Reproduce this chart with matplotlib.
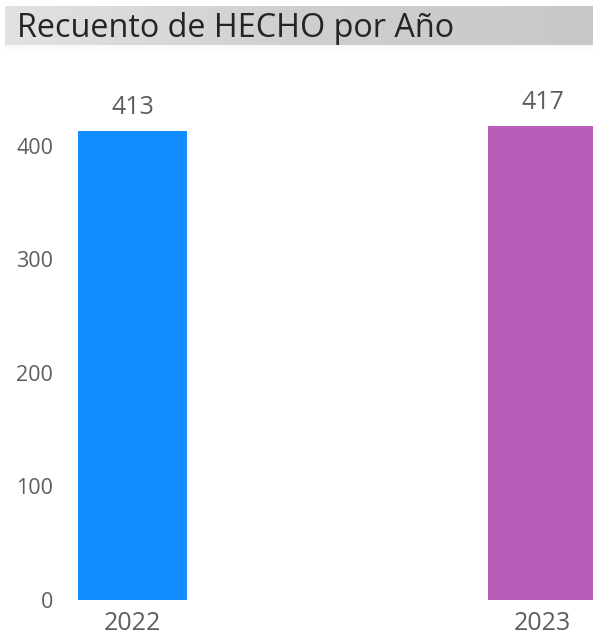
import numpy as np
from matplotlib import pyplot as plt

# datos del gráfico
anios = ['2022', '2023']
conteos = [413, 417]
colores = ['#118DFF', '#B95DB8']
titulo = 'Recuento de HECHO por Año'
yticks = [0, 100, 200, 300, 400]

plt.rcParams['font.family'] = ['Open Sans', 'DejaVu Sans']

W, H = 593, 642
fig = plt.figure(figsize=(W / 100, H / 100), dpi=100)
fig.patch.set_facecolor('white')

# barra de título con degradado gris
tb = fig.add_axes([5 / W, 1 - 45 / H, 1 - 5 / W, 39 / H])
grad = np.linspace(0, 1, 256).reshape(1, -1)
tb.imshow(grad, aspect='auto', cmap=plt.matplotlib.colors.LinearSegmentedColormap.from_list(
    'g', ['#e2e2e2', '#cfcfcf', '#c8c8c8']), extent=[0, 1, 0, 1])
tb.set_xlim(0, 1)
tb.set_ylim(0, 1)
tb.axis('off')
tb.text(12 / W, 0.42, titulo, fontsize=23.3, color='#252423', va='center', ha='left',
        transform=tb.transAxes)

# sombra suave bajo la barra
sh = fig.add_axes([5 / W, 1 - 53 / H, 1 - 5 / W, 8 / H])
sh.imshow(np.linspace(0, 1, 32).reshape(-1, 1), aspect='auto', cmap='Greys_r',
          vmin=-6, vmax=1, extent=[0, 1, 0, 1], alpha=0.35)
sh.axis('off')

# gráfico de barras
ax = fig.add_axes([70 / W, 42 / H, 1 - 70 / W, 520 / H])
x = np.arange(len(anios))
ancho = 109 / 410
barras = ax.bar(x, conteos, width=ancho, color=colores)
ax.set_xlim(-62.5 / 410, 460.5 / 410)
ax.set_ylim(0, 520 / 1.1356)
ax.set_yticks(yticks)
ax.set_yticklabels([str(v) for v in yticks], fontsize=15.5, color='#605E5C')
ax.set_xticks(x)
ax.set_xticklabels(anios, fontsize=18, color='#605E5C')
ax.tick_params(axis='y', length=0, pad=12)
ax.tick_params(axis='x', length=0, pad=8)
for s in ax.spines.values():
    s.set_visible(False)

for xi, v in zip(x, conteos):
    ax.annotate(str(v), (xi, v), xytext=(0, 8), textcoords='offset points',
                ha='center', va='bottom', fontsize=18, color='#605E5C')

fig.savefig('out.png', dpi=100)
